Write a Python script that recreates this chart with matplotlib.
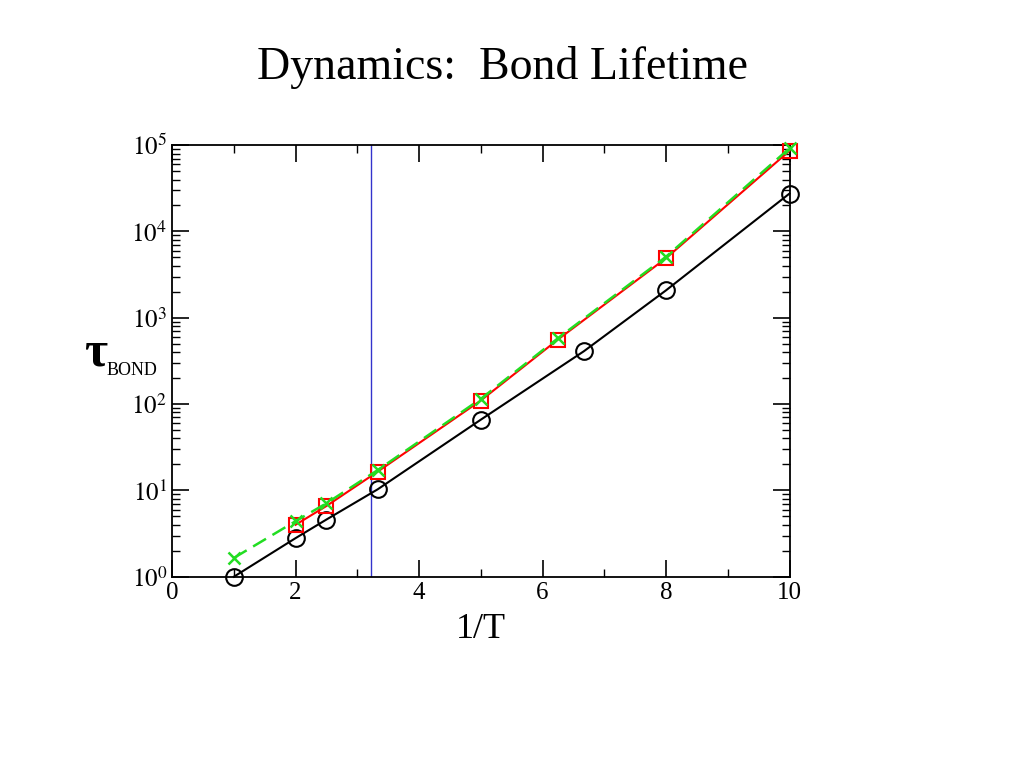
import math
import matplotlib
matplotlib.use('Agg')
import matplotlib.pyplot as plt
from matplotlib.ticker import MultipleLocator, LogLocator, FuncFormatter

plt.rcParams['font.family'] = ['Liberation Serif', 'DejaVu Serif']
plt.rcParams['mathtext.fontset'] = 'stix'

# black circles
x_circ = [1, 2, 2.5, 3.33, 5, 6.67, 8, 10]
tau_circ = [1.0, 2.8, 4.6, 10.3, 66, 410, 2080, 27500]

# red squares
x_sq = [2, 2.5, 3.33, 5, 6.25, 8, 10]
tau_sq = [4.0, 6.6, 16.5, 110, 560, 4900, 86000]

# green crosses, dashed
x_cr = [1, 2, 2.5, 3.33, 5, 6.25, 8, 10]
tau_cr = [1.65, 4.4, 7.1, 17.2, 115, 580, 5100, 92000]

x_vline = 3.22

fig = plt.figure(figsize=(10.24, 7.68), dpi=100)
ax = fig.add_axes([0.168, 0.249, 0.603, 0.562])

ax.plot(x_circ, tau_circ, '-', color='black', lw=1.5, marker='o', ms=12,
        mfc='none', mec='black', mew=1.5, clip_on=False, zorder=3)
ax.plot(x_sq, tau_sq, '-', color='red', lw=1.5, marker='s', ms=10,
        mfc='none', mec='red', mew=1.5, clip_on=False, zorder=4)
ax.plot(x_cr, tau_cr, '--', color='#22dd22', lw=1.8, marker='x', ms=8,
        mec='#22dd22', mew=1.8, dashes=(6, 3), clip_on=False, zorder=5)
ax.axvline(x_vline, color='#3333cc', lw=1)

ax.set_yscale('log')
ax.set_xlim(0, 10)
ax.set_ylim(1, 1e5)

ax.xaxis.set_major_locator(MultipleLocator(2))
ax.xaxis.set_minor_locator(MultipleLocator(1))
ax.yaxis.set_major_locator(LogLocator(base=10, numticks=10))
ax.yaxis.set_minor_locator(LogLocator(base=10, subs=range(2, 10), numticks=20))
ax.yaxis.set_major_formatter(FuncFormatter(lambda v, p: r'$10^{%d}$' % round(math.log10(v))))

ax.tick_params(which='both', direction='in', top=True, right=True)
ax.tick_params(which='major', length=12, width=1.2, labelsize=18)
ax.tick_params(which='minor', length=6, width=1)
ax.tick_params(axis='x', pad=4)
for s in ax.spines.values():
    s.set_linewidth(1.3)

ax.set_xlabel('1/T', fontsize=26, labelpad=6)
fig.text(0.082, 0.540, 'τ', fontsize=36, fontweight='bold', ha='left', va='center')
fig.text(0.104, 0.518, 'BOND', fontsize=13, ha='left', va='center')

fig.text(0.491, 0.912, 'Dynamics:  Bond Lifetime', fontsize=33, ha='center', va='center')

fig.savefig('out.png', dpi=100)
